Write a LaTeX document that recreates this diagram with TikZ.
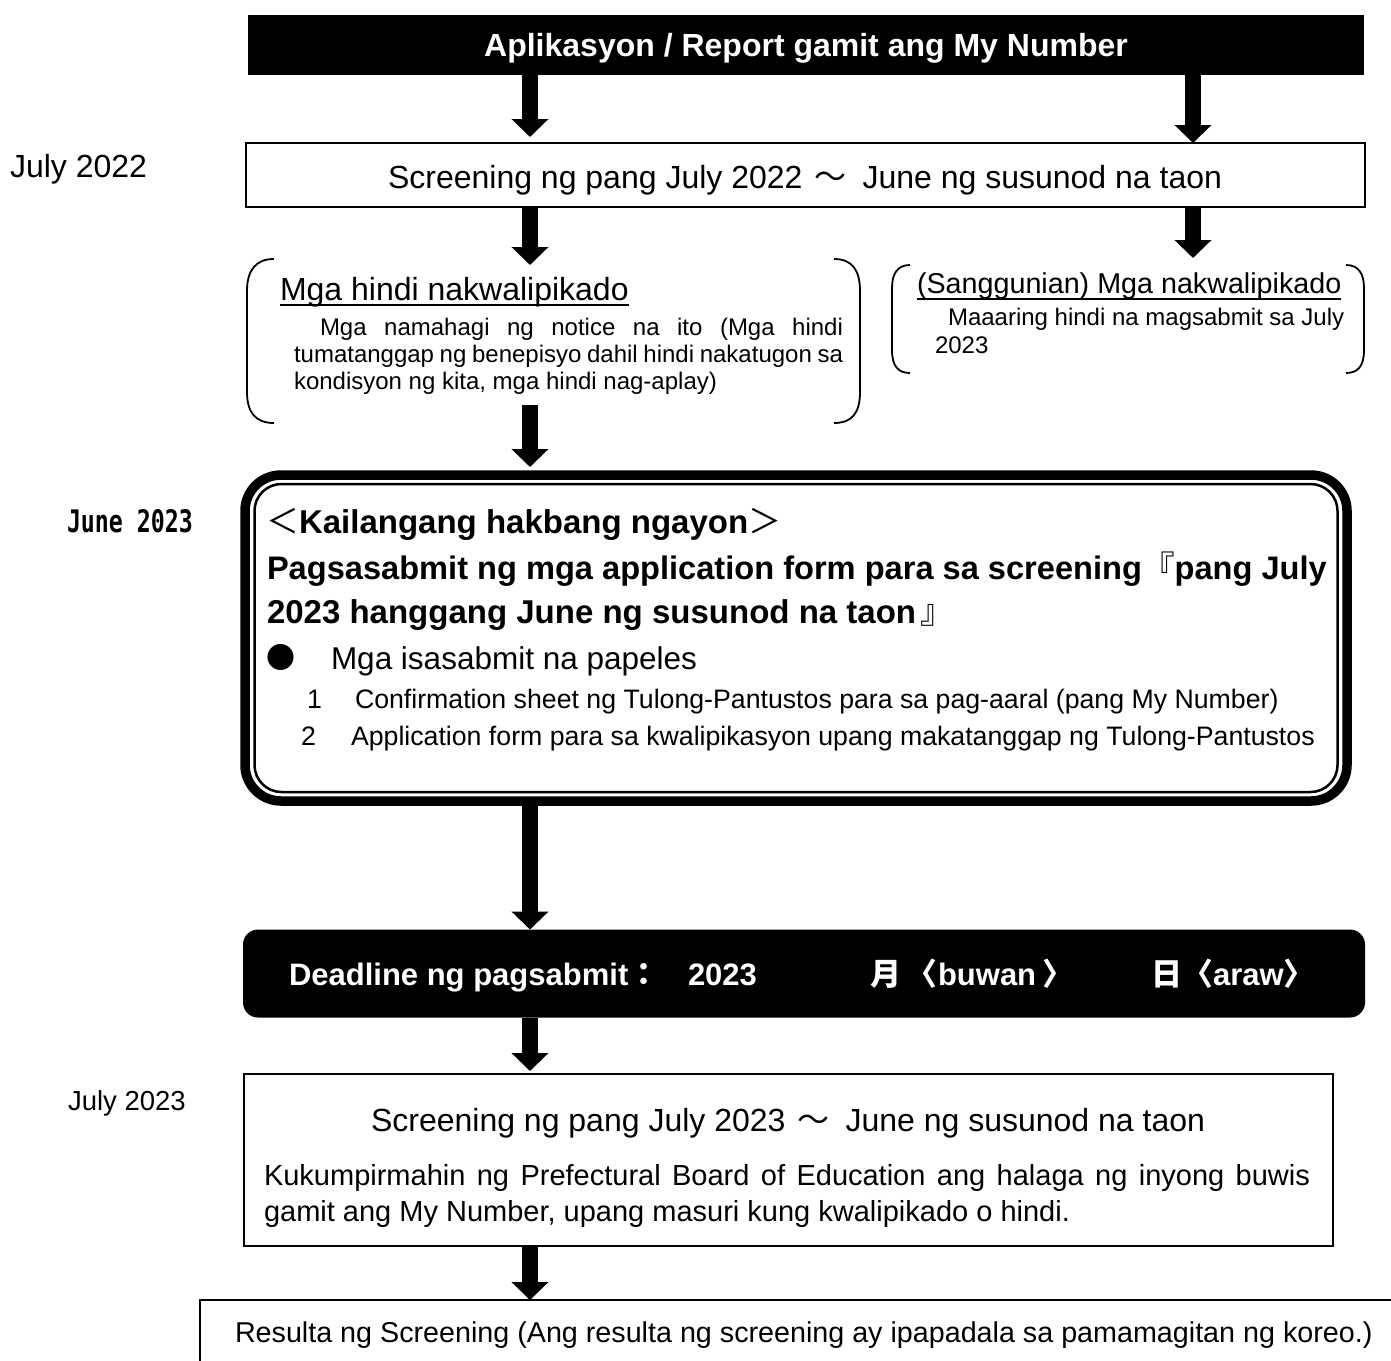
\documentclass[tikz,border=0pt]{standalone}
\usepackage{fontspec}
\setmainfont{Liberation Sans}
\newfontfamily\jpf{Noto Sans CJK JP}
\newfontfamily\monof{DejaVu Sans Mono}
\usetikzlibrary{arrows.meta,calc}
\newcommand{\fsz}[1]{\fontsize{#1}{#1}\selectfont}
\begin{document}
\begin{tikzpicture}[x=1pt,y=-1pt,
  every node/.style={outer sep=0pt,inner sep=0pt},
  blk/.style={line width=16pt,-{Triangle[width=36pt,length=18pt]}},
  plainbox/.style={draw,line width=1.5pt},
  brk/.style={line width=1.8pt},
  tx/.style={anchor=base west},
  tc/.style={anchor=base},
  uline/.style={line width=1.8pt}]
\useasboundingbox (0,0) rectangle (1391,1360);
\clip (0,0) rectangle (1391,1360);
\coordinate (cL) at (530,0);
\coordinate (cR) at (1193,0);
% title
\node[fill=black,minimum width=1116pt,minimum height=60pt] (title) at (806,45) {};
\node[tc,text=white,font=\bfseries\fsz{32}] (titletx) at (806,56) {Aplikasyon / Report gamit ang My Number};
% screening 2022
\node[plainbox,minimum width=1119pt,minimum height=64pt] (scrA) at (805.5,175) {};
\node[tc,font=\fsz{32}] (scrAtx) at (805,188) {Screening ng pang July 2022\hspace{12pt}{\jpf ～}\hspace{16pt}June ng susunod na taon};
\node[tx,font=\fsz{32}] (jul22) at (10,177) {July 2022};
% left bracket
\node[minimum width=612pt,minimum height=165pt] (lb) at (554,340.5) {};
\draw[brk] (274,259) .. controls (256,259) and (247,270) .. (247,291) -- (247,392) .. controls (247,413) and (256,423) .. (274,423);
\draw[brk] (834,259) .. controls (852,259) and (860,270) .. (860,291) -- (860,392) .. controls (860,413) and (852,423) .. (834,423);
\node[tx,font=\fsz{32}] (lbt) at (280,300) {Mga hindi nakwalipikado};
\draw[uline] ($(lbt.base west)+(0,5)$) -- ($(lbt.base east)+(0,5)$);
\node[tx,font=\fsz{24}] (lb1) at (320,335) {\makebox[523pt][s]{Mga namahagi ng notice na ito (Mga hindi}};
\node[tx,font=\fsz{24}] (lb2) at (294,362) {\makebox[549pt][s]{tumatanggap ng benepisyo dahil hindi nakatugon sa}};
\node[tx,font=\fsz{24}] (lb3) at (294,389) {kondisyon ng kita, mga hindi nag-aplay)};
% right bracket
\node[minimum width=471pt,minimum height=108pt] (rb) at (1127.5,319) {};
\draw[brk] (910,265) .. controls (898,265) and (892,273) .. (892,288) -- (892,350) .. controls (892,366) and (898,373) .. (910,373);
\draw[brk] (1346,265) .. controls (1358,265) and (1364,273) .. (1364,288) -- (1364,350) .. controls (1364,366) and (1358,373) .. (1346,373);
\node[tx,font=\fsz{28.7}] (rbt) at (917,293) {(Sanggunian) Mga nakwalipikado};
\draw[uline] ($(rbt.base west)+(0,6)$) -- ($(rbt.base east)+(0,6)$);
\node[tx,font=\fsz{24}] (rb1) at (948,325) {Maaaring hindi na magsabmit sa July};
\node[tx,font=\fsz{24}] (rb2) at (935,353) {2023};
% big box
\node[draw,line width=9.5pt,rounded corners=36pt,minimum width=1102pt,minimum height=326pt] (big) at (796,638) {};
\node[draw,line width=2.5pt,rounded corners=27pt,minimum width=1083pt,minimum height=308pt] (bigin) at (796,638) {};
\node[tx] (jun23) at (67,532) {\scalebox{0.75}[1]{\monof\bfseries\fsz{31}June 2023}};
\node[tx,font=\bfseries\fsz{33}] (h1) at (266,533) {{\jpf\mdseries ＜}Kailangang hakbang ngayon{\jpf\mdseries ＞}};
\node[tx,font=\bfseries\fsz{32.6}] (h2) at (267,579) {Pagsasabmit ng mga application form para sa screening{\jpf\mdseries 『}pang July};
\node[tx,font=\bfseries\fsz{33}] (h3) at (267,623) {2023 hanggang June ng susunod na taon\hspace{4pt}{\jpf\mdseries 』}};
\node[tx,font=\fsz{29}] (bul) at (266,668) {\jpf ●};
\node[tx,font=\fsz{31.5}] (bult) at (331,669) {Mga isasabmit na papeles};
\node[tx,font=\fsz{26.7}] (n1) at (307,708) {1};
\node[tx,font=\fsz{26.7}] (i1) at (355,708) {Confirmation sheet ng Tulong-Pantustos para sa pag-aaral (pang My Number)};
\node[tx,font=\fsz{26.7}] (n2) at (301,745) {2};
\node[tx,font=\fsz{26.7}] (i2) at (351,745) {Application form para sa kwalipikasyon upang makatanggap ng Tulong-Pantustos};
% deadline
\node[fill=black,rounded corners=15pt,minimum width=1122pt,minimum height=88pt] (dl) at (804,973.5) {};
\node[tx,text=white,font=\bfseries\fsz{31}] (dl1) at (289,985) {Deadline ng pagsabmit{\jpf ：}};
\node[tx,text=white,font=\bfseries\fsz{31}] (dl2) at (688,985) {2023};
\node[tx,text=white,font=\bfseries\fsz{31}] (dl3) at (870,985) {{\jpf 月}\hspace{6pt}{\jpf 〈}buwan\hspace{6pt}{\jpf 〉}};
\node[tx,text=white,font=\bfseries\fsz{31}] (dl4) at (1151,985) {{\jpf 日〈}araw{\jpf 〉}};
% screening 2023
\node[plainbox,minimum width=1089pt,minimum height=172pt] (scrB) at (788.5,1160) {};
\node[tc,font=\fsz{32}] (scrBtx) at (788,1131) {Screening ng pang July 2023\hspace{12pt}{\jpf ～}\hspace{16pt}June ng susunod na taon};
\node[tx,font=\fsz{29}] (b1) at (264,1185) {\makebox[1046pt][s]{Kukumpirmahin ng Prefectural Board of Education ang halaga ng inyong buwis}};
\node[tx,font=\fsz{29}] (b2) at (264,1221) {gamit ang My Number, upang masuri kung kwalipikado o hindi.};
\node[tx,font=\fsz{27.5}] (jul23) at (68,1110) {July 2023};
% result
\node[plainbox,minimum width=1220pt,minimum height=100pt] (res) at (810,1350) {};
\node[tx,font=\fsz{28.7}] (restx) at (235,1342) {Resulta ng Screening (Ang resulta ng screening ay ipapadala sa pamamagitan ng koreo.)};
% arrows
\draw[blk] (title.south -| cL) -- ($(scrA.north -| cL)+(0,-6)$);
\draw[blk] (title.south -| cR) -- (scrA.north -| cR);
\draw[blk] (scrA.south -| cL) -- ($(lb.north -| cL)+(0,7)$);
\draw[blk] (scrA.south -| cR) -- ($(rb.north -| cR)+(0,-7)$);
\draw[blk] ($(lb.south -| cL)+(0,-18)$) -- ($(big.north -| cL)+(0,-8)$);
\draw[blk] (big.south -| cL) -- (dl.north -| cL);
\draw[blk] (dl.south -| cL) -- ($(scrB.north -| cL)+(0,-3)$);
\draw[blk] (scrB.south -| cL) -- (res.north -| cL);
\end{tikzpicture}
\end{document}
